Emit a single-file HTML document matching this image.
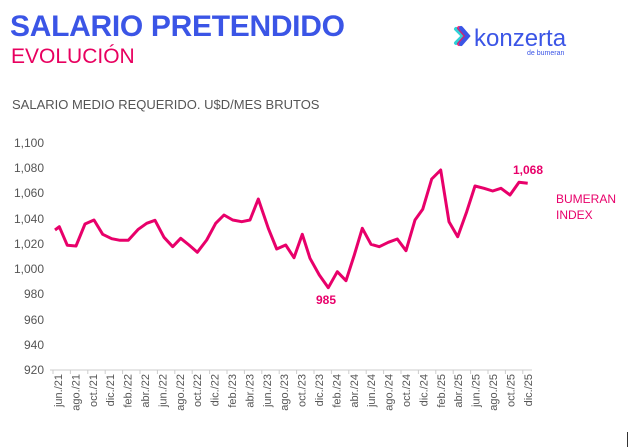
<!DOCTYPE html>
<html><head><meta charset="utf-8"><style>
body{margin:0;width:629px;height:447px;background:#fff;overflow:hidden;font-family:"Liberation Sans",sans-serif;position:relative}
.t1{position:absolute;left:10px;top:10px;font-size:30px;font-weight:bold;color:#3b55e6;letter-spacing:-0.3px}
.t2{position:absolute;left:11px;top:45px;font-size:21px;color:#e8005f}
.t3{position:absolute;left:12px;top:97px;font-size:13px;color:#555}
</style></head><body>
<div class="t1">SALARIO PRETENDIDO</div>
<div class="t2">EVOLUCIÓN</div>
<div class="t3">SALARIO MEDIO REQUERIDO. U$D/MES BRUTOS</div>
<svg width="629" height="447" style="position:absolute;left:0;top:0" font-family="Liberation Sans, sans-serif">
<path d="M456 29 L463 36 L456 43" fill="none" stroke="#2fd0d8" stroke-width="4" stroke-linecap="round"/>
<path d="M459 28 L466 36 L459 44" fill="none" stroke="#e8005f" stroke-width="4" stroke-linecap="round" opacity="0.8"/>
<path d="M461 28 L468 36 L461 44" fill="none" stroke="#3b55e6" stroke-width="4" stroke-linecap="round"/>
<text x="474" y="46" font-size="24" fill="#3b55e6">konzerta</text>
<text x="527" y="55" font-size="7" fill="#3b55e6">de bumeran</text>
<g font-size="12" fill="#555" text-anchor="end">
<text x="44" y="147">1,100</text><text x="44" y="172">1,080</text><text x="44" y="197">1,060</text><text x="44" y="223">1,040</text><text x="44" y="248">1,020</text><text x="44" y="273">1,000</text><text x="44" y="298">980</text><text x="44" y="324">960</text><text x="44" y="349">940</text><text x="44" y="374">920</text>
</g>
<line x1="50" y1="370" x2="532" y2="370" stroke="#ccc"/>
<g id="lab" font-size="11" fill="#555"></g>
<polyline fill="none" stroke="#e8006a" stroke-width="3" stroke-linejoin="round" points="55,230 59.3,226.7 67.3,245.3 76,246 85,224 94,220 102.7,234.3 111.7,238.7 120,240.3 128.3,240.3 138.3,229.3 146.7,223.3 155,220.3 164,237.3 172.7,246.7 180.7,238.3 189,245 197.3,252.3 206.7,240 215.7,223.3 224,215 232.7,220 241.7,221.7 250,220 258.3,199 268.3,228.3 276.7,249 285.7,245 294,257.7 302.3,234.3 310,258.3 319.3,275 328.3,287.7 337.3,271.7 346,280.7 354.3,255 362.3,228.3 371,244.3 379.3,246.7 388.3,242.3 397.3,239 406,250.7 415,220 422.7,209.3 431.7,179 440.7,170 449,221.7 457.7,236.7 466.7,211.7 475,186 484,188.3 492.7,191 501,188.3 510,195 519,182.3 527.7,183.3"/>
<text x="316" y="304" font-size="12" font-weight="bold" fill="#e8006a">985</text>
<text x="513" y="174" font-size="12" font-weight="bold" fill="#e8006a">1,068</text>
<text x="556" y="203" font-size="12" fill="#e8006a">BUMERAN</text>
<text x="556" y="219" font-size="12" fill="#e8006a">INDEX</text>
<line x1="627.5" y1="432" x2="627.5" y2="447" stroke="#333"/>
</svg>
<script>
var m=["jun./21","ago./21","oct./21","dic./21","feb./22","abr./22","jun./22","ago./22","oct./22","dic./22","feb./23","abr./23","jun./23","ago./23","oct./23","dic./23","feb./24","abr./24","jun./24","ago./24","oct./24","dic./24","feb./25","abr./25","jun./25","ago./25","oct./25","dic./25"];
var g=document.getElementById("lab"),s="";
for(var i=0;i<m.length;i++){var x=62+i*17.4;s+='<text transform="translate('+x+',374) rotate(-90)" text-anchor="end">'+m[i]+'</text>';s+='<line x1="'+(x-9)+'" y1="370" x2="'+(x-9)+'" y2="374" stroke="#ccc"/>';}
g.innerHTML=s;
</script>
</body></html>
